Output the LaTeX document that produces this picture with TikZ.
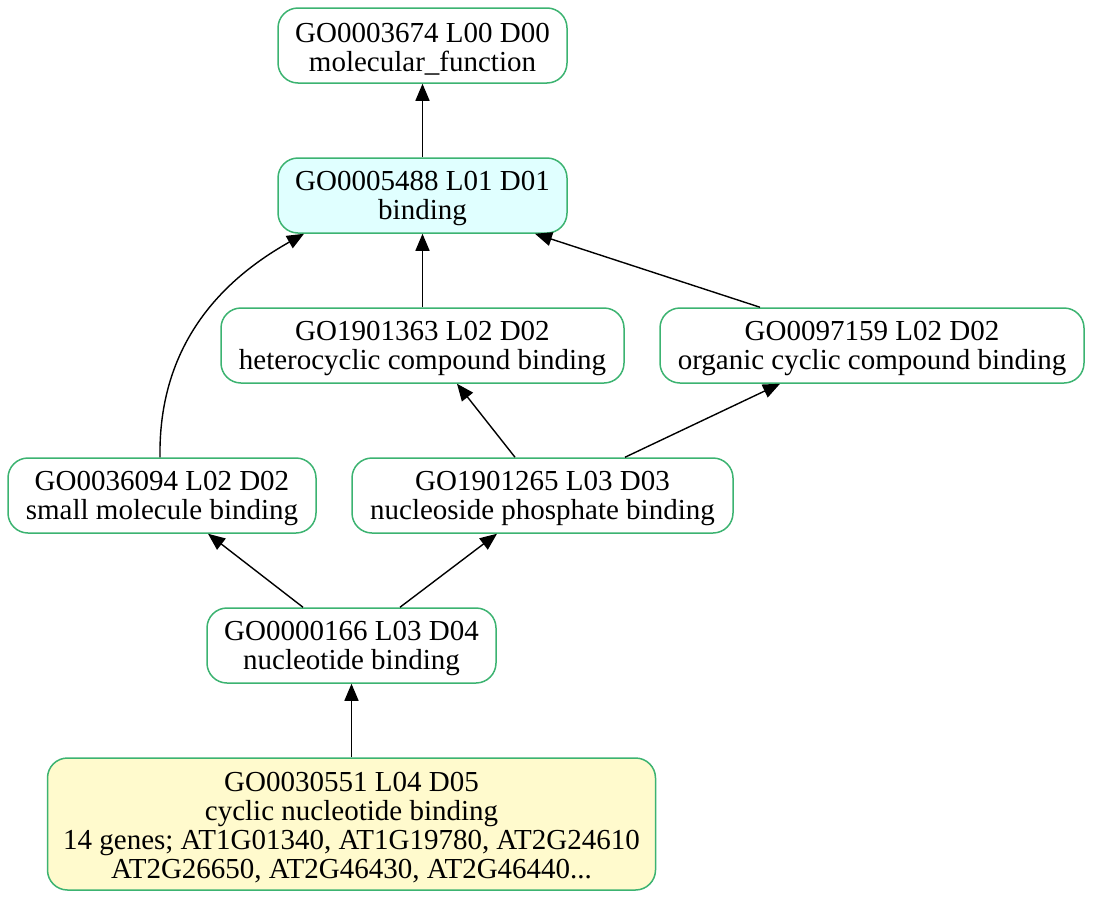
\documentclass[tikz,border=0pt]{standalone}
\usepackage{fontspec}
\setmainfont{Liberation Serif}
\usetikzlibrary{arrows.meta}
\definecolor{goborder}{HTML}{3CB371}
\definecolor{gocyan}{HTML}{E0FFFF}
\definecolor{golemon}{HTML}{FFFACD}
% taller first line lowers the text block slightly inside each box
\newcommand{\gostrut}{\rule{0pt}{26pt}}
\begin{document}
\begin{tikzpicture}[x=1pt,y=-1pt,
  term/.style={draw=goborder, line width=1.5pt, rounded corners=20pt, fill=white,
    align=center, inner sep=0pt, minimum height=75pt,
    font=\fontsize{29}{29}\selectfont},
  isa/.style={line width=1.4pt, -{Triangle[length=17pt,width=14pt]}}]
\useasboundingbox (0,0) rectangle (1093,900);

% GO terms
\node[term, minimum width=289pt] (n1) at (422.5,45.5) {\gostrut GO0003674 L00 D00\\molecular\_function};
\node[term, minimum width=289pt, fill=gocyan] (n2) at (422.5,195.5) {\gostrut GO0005488 L01 D01\\binding};
\node[term, minimum width=403pt] (n3) at (422.5,345.5) {\gostrut GO1901363 L02 D02\\heterocyclic compound binding};
\node[term, minimum width=424pt] (n4) at (872,345.5) {\gostrut GO0097159 L02 D02\\organic cyclic compound binding};
\node[term, minimum width=308pt] (n5) at (162,495.5) {\gostrut GO0036094 L02 D02\\small molecule binding};
\node[term, minimum width=381pt] (n6) at (542.5,495.5) {\gostrut GO1901265 L03 D03\\nucleoside phosphate binding};
\node[term, minimum width=289pt] (n7) at (351.5,645.5) {\gostrut GO0000166 L03 D04\\nucleotide binding};
\node[term, minimum width=608pt, minimum height=132pt, fill=golemon] (n8) at (351.5,824)
  {\gostrut GO0030551 L04 D05\\cyclic nucleotide binding\\14 genes; AT1G01340, AT1G19780, AT2G24610\\AT2G26650, AT2G46430, AT2G46440...};

% is_a relations, child -> parent
\draw[isa] (n2.north) -- (n1.south);
\draw[isa] (n3.north) -- (n2.south);
\draw[isa] ([xshift=-112pt]n4.north) -- ([xshift=112.5pt]n2.south);
\draw[isa] ([xshift=-2pt]n5.north) .. controls (158,330) and (240,270) .. ([xshift=-118.5pt]n2.south);
\draw[isa] ([xshift=-27.5pt]n6.north) -- ([xshift=34.5pt]n3.south);
\draw[isa] ([xshift=82.5pt]n6.north) -- ([xshift=-92pt]n4.south);
\draw[isa] ([xshift=-48.5pt]n7.north) -- ([xshift=46pt]n5.south);
\draw[isa] ([xshift=48.5pt]n7.north) -- ([xshift=-45.5pt]n6.south);
\draw[isa] (n8.north) -- (n7.south);
\end{tikzpicture}
\end{document}
